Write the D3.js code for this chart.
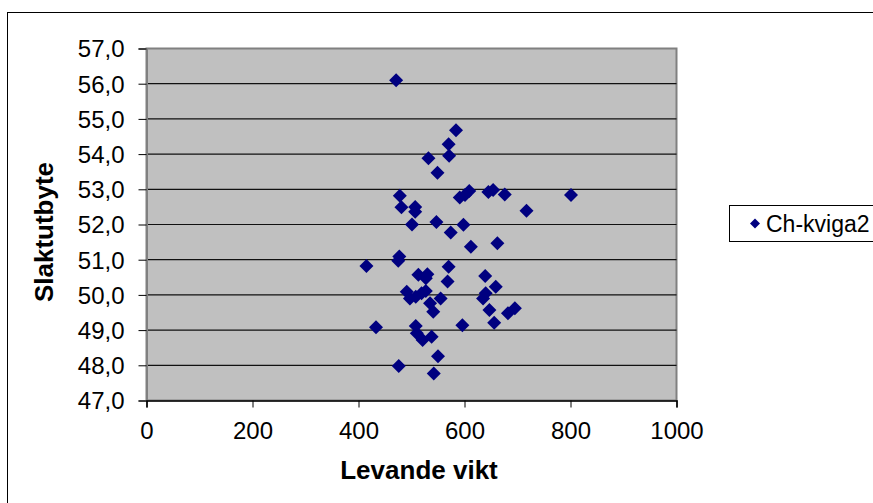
<!DOCTYPE html>
<html>
<head>
<meta charset="utf-8">
<script src="https://cdn.jsdelivr.net/npm/d3@7"></script>
<style>
body{margin:0;background:#fff;}
svg{display:block;font-family:"Liberation Sans",Arial,sans-serif;}
</style>
</head>
<body>
<svg id="chart" width="873" height="503"></svg>
<script>
const seriesName = "Ch-kviga2";
const levandeVikt = [471,584,570,571,532,549,478,481,507,507,501,547,574,598,591,601,609,645,654,676,717,801,662,612,477,475,415,570,513,530,527,639,568,659,491,497,508,519,527,555,635,640,535,541,647,682,695,656,596,433,508,510,521,538,550,476,542];
const slaktutbyte = [56.1,54.68,54.28,53.95,53.88,53.47,52.82,52.49,52.5,52.36,52.0,52.07,51.77,51.99,52.77,52.84,52.95,52.92,52.98,52.85,52.39,52.84,51.47,51.37,51.09,50.97,50.82,50.8,50.57,50.59,50.47,50.54,50.38,50.23,50.09,49.9,49.95,50.05,50.11,49.9,49.9,50.05,49.76,49.52,49.57,49.48,49.62,49.21,49.14,49.08,49.12,48.91,48.72,48.81,48.26,47.98,47.77];
const xTicks = [0,200,400,600,800,1000];
const yTicks = [47,48,49,50,51,52,53,54,55,56,57];
const xTitle = "Levande vikt";
const yTitle = "Slaktutbyte";

const svg = d3.select("#chart");
const L = 146.5, R = 676.5, T = 48.5, B = 400.5;
const x = d3.scaleLinear().domain([0,1000]).range([L,R]);
const y = d3.scaleLinear().domain([47,57]).range([B,T]);

// outer chart border
svg.append("rect").attr("x",7.5).attr("y",12.5).attr("width",900).attr("height",600)
  .attr("fill","#fff").attr("stroke","#000").attr("stroke-width",1);

// plot area
svg.append("rect").attr("x",L).attr("y",T).attr("width",R-L).attr("height",B-T)
  .attr("fill","#C0C0C0").attr("stroke","#808080").attr("stroke-width",2);

// gridlines
svg.append("g").selectAll("line").data(yTicks.filter(d=>d>47 && d<57)).join("line")
  .attr("x1",L).attr("x2",R).attr("y1",d=>y(d)).attr("y2",d=>y(d))
  .attr("stroke","#111").attr("stroke-width",1.2);

// y axis
const yAxis = svg.append("g").attr("transform",`translate(${L},0)`)
  .call(d3.axisLeft(y).tickValues(yTicks).tickSize(8).tickPadding(14)
    .tickFormat(d=>d3.format(".1f")(d).replace(".",",")));
yAxis.select(".domain").attr("stroke","#808080").attr("stroke-width",2);
yAxis.selectAll(".tick line").attr("stroke","#000");
yAxis.selectAll("text").attr("font-size",24).attr("fill","#000")
  .attr("font-family","Liberation Sans, Arial, sans-serif").attr("dy","0.35em");

// x axis
const xAxis = svg.append("g").attr("transform",`translate(0,${B})`)
  .call(d3.axisBottom(x).tickValues(xTicks).tickSize(7).tickPadding(14).tickFormat(d3.format("d")));
xAxis.select(".domain").attr("stroke","#000").attr("stroke-width",1.5);
xAxis.selectAll(".tick line").attr("stroke","#000");
xAxis.selectAll("text").attr("font-size",24).attr("fill","#000")
  .attr("font-family","Liberation Sans, Arial, sans-serif");

// points
const diamond = d3.symbol().type(d3.symbolSquare).size(98);
svg.append("g").selectAll("path").data(levandeVikt.map((v,i)=>[v,slaktutbyte[i]])).join("path")
  .attr("d",diamond)
  .attr("transform",d=>`translate(${x(d[0])},${y(d[1])}) rotate(45)`)
  .attr("fill","#000080");

// titles
svg.append("text").attr("x",419).attr("y",479).attr("text-anchor","middle")
  .attr("font-size",26).attr("font-weight","bold").text(xTitle);
svg.append("text").attr("transform","translate(53,232) rotate(-90)").attr("text-anchor","middle")
  .attr("font-size",26).attr("font-weight","bold").text(yTitle);

// legend
const lg = svg.append("g");
lg.append("rect").attr("x",729.5).attr("y",205.5).attr("width",200).attr("height",36)
  .attr("fill","#fff").attr("stroke","#000").attr("stroke-width",1);
lg.append("path").attr("d",d3.symbol().type(d3.symbolSquare).size(50))
  .attr("transform","translate(755,223.5) rotate(45)").attr("fill","#000080");
lg.append("text").attr("x",766).attr("y",231.5).attr("font-size",23).text(seriesName);
</script>
</body>
</html>
